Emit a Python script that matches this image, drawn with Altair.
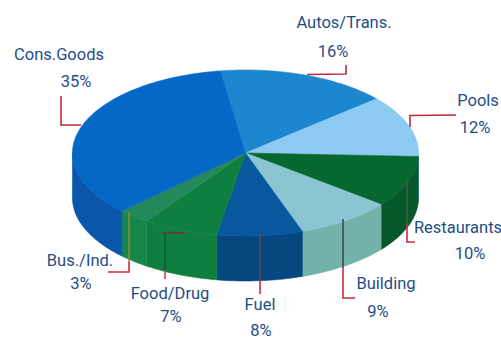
import math
import altair as alt
import pandas as pd

# Sector shares, clockwise from the Autos/Trans. slice
categories = ["Autos/Trans.", "Pools", "Restaurants", "Building", "Fuel", "Food/Drug", "Bus./Ind.", "Cons.Goods"]
shares = [16, 12, 10, 9, 8, 7, 3, 35]
top_colors = ["#1c86cf", "#8ccaf2", "#07682f", "#8cc5d2", "#07589f", "#0f7f3f", "#24895a", "#0668c6"]
wall_colors = ["#1c86cf", "#6fb0d8", "#04582a", "#72b2a8", "#07477f", "#0f7f3f", "#17864a", "#0a56aa"]

# Disc layout in chart pixels
CX, CY, RX, RY, DEPTH = 245.5, 153.0, 173.0, 83.0, 45.0
START_ANGLE = 98.4
STEP = 1.5


def arc(a0, a1):
    n = max(2, int(abs(a1 - a0) / STEP) + 1)
    pts = []
    for k in range(n + 1):
        t = math.radians(a0 + (a1 - a0) * k / n)
        pts.append((CX + RX * math.cos(t), CY - RY * math.sin(t)))
    return pts


rows = []
wall_rows = []


def add_polygon(target, key, color, pts):
    closed = pts + [pts[0]]
    for i, (x, y) in enumerate(closed):
        target.append({"key": key, "i": i, "x": x, "y": y, "color": color})


angle = START_ANGLE
for name, share, top, wall in zip(categories, shares, top_colors, wall_colors):
    a0, a1 = angle, angle - share * 3.6
    # Side wall: only the part of the rim on the front half of the disc
    lo, hi = a1, a0
    for w0, w1 in [(-180, 0), (-540, -360)]:
        s0, s1 = max(lo, w0), min(hi, w1)
        if s1 > s0:
            rim = arc(s1, s0)
            lower = [(x, y + DEPTH) for x, y in reversed(rim)]
            add_polygon(rows, f"wall-{name}-{w0}", wall, rim + lower)
    add_polygon(rows, f"top-{name}", top, [(CX, CY)] + arc(a0, a1))
    angle = a1

x_scale = alt.Scale(domain=[0, 501])
y_scale = alt.Scale(domain=[339, 0])

pie = (
    alt.Chart(pd.DataFrame(rows))
    .mark_line(strokeWidth=0.6, interpolate="linear")
    .encode(
        x=alt.X("x:Q", scale=x_scale, axis=None),
        y=alt.Y("y:Q", scale=y_scale, axis=None),
        fill=alt.Fill("color:N", scale=None),
        stroke=alt.Stroke("color:N", scale=None),
        detail="key:N",
        order="i:Q",
    )
)

# Leader lines: dark where they cross the pie wall, red in the open
leaders = [
    ("cons", "#c2283a", [(61, 96), (61, 125), (81, 125)]),
    ("autos", "#c2283a", [(307, 74.5), (346, 74), (346, 65)]),
    ("pools", "#c2283a", [(410, 127), (410, 115.5), (456, 115)]),
    ("rest-in", "#4a5a30", [(407, 182), (407, 224)]),
    ("rest-out", "#d0283c", [(407, 224), (407, 242), (415, 242)]),
    ("bld-in", "#3a4a60", [(343, 219), (343, 268)]),
    ("bld-out", "#d0283c", [(343, 268), (343, 298), (355, 298)]),
    ("fuel-in", "#5a4a50", [(260, 233), (260, 280)]),
    ("fuel-out", "#d0283c", [(260, 280), (260, 294)]),
    ("food-h", "#6a3a30", [(162, 233), (185, 233)]),
    ("food-in", "#0c5a40", [(165, 233), (165, 270)]),
    ("food-out", "#b05050", [(165, 270), (165, 279)]),
    ("bus-in", "#8a8a40", [(129, 212), (129, 262)]),
    ("bus-out", "#d0283c", [(129, 262), (129, 272), (108, 272)]),
]
leader_df = pd.DataFrame(
    [
        {"key": k, "i": i, "x": x, "y": y, "color": c}
        for k, c, pts in leaders
        for i, (x, y) in enumerate(pts)
    ]
)
leader_layer = (
    alt.Chart(leader_df)
    .mark_line(strokeWidth=1.6, strokeJoin="miter")
    .encode(
        x=alt.X("x:Q", scale=x_scale, axis=None),
        y=alt.Y("y:Q", scale=y_scale, axis=None),
        stroke=alt.Stroke("color:N", scale=None),
        detail="key:N",
        order="i:Q",
    )
)

# Label anchors: (name centre x, name baseline, value centre x, value baseline)
anchors = {
    "Autos/Trans.": (344, 28, 333, 57),
    "Pools": (478, 106, 475, 133),
    "Restaurants": (458, 233, 470, 259),
    "Building": (386, 289, 378, 317),
    "Fuel": (260, 310, 261, 336),
    "Food/Drug": (170, 299, 171, 322),
    "Bus./Ind.": (80, 266, 81, 289),
    "Cons.Goods": (59, 60, 76, 87),
}
label_rows = []
for name, share in zip(categories, shares):
    nx, ny, vx, vy = anchors[name]
    label_rows.append({"text": name, "x": nx, "y": ny})
    label_rows.append({"text": f"{share}%", "x": vx, "y": vy})

labels = (
    alt.Chart(pd.DataFrame(label_rows))
    .mark_text(
        font="Roboto",
        fontSize=16.5,
        color="#1f4e85",
        align="center",
        baseline="alphabetic",
    )
    .encode(
        x=alt.X("x:Q", scale=x_scale, axis=None),
        y=alt.Y("y:Q", scale=y_scale, axis=None),
        text="text:N",
    )
)

chart = (
    alt.layer(pie, leader_layer, labels)
    .properties(width=501, height=339, padding=0, autosize="none", background="white")
    .configure_view(stroke=None)
)

chart.save("out.html", embed_options={"renderer": "svg", "actions": False})
